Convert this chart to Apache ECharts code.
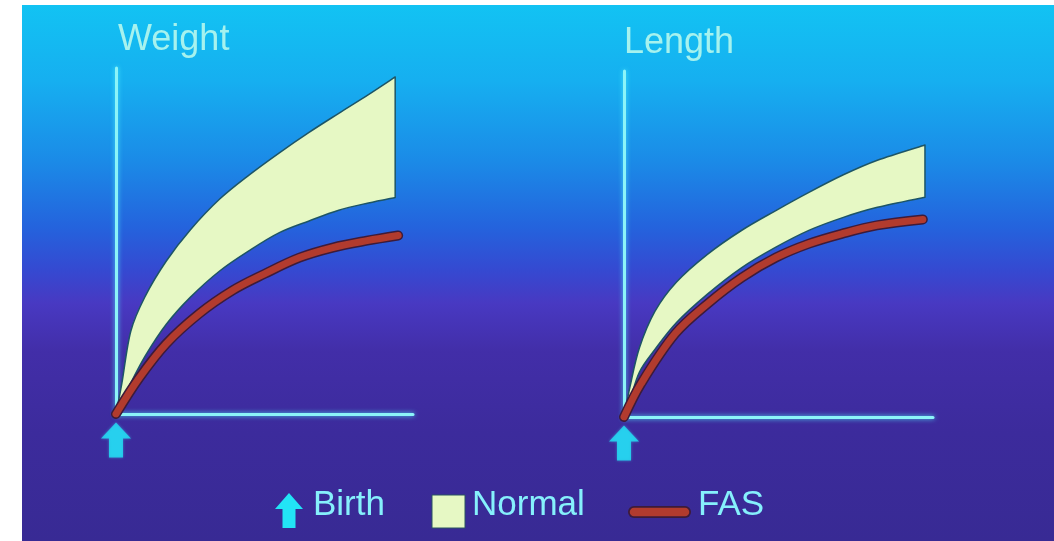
<!DOCTYPE html>
<html>
<head>
<meta charset="utf-8">
<script src="https://cdn.jsdelivr.net/npm/echarts@6/dist/echarts.min.js"></script>
<style>
html,body{margin:0;padding:0;background:#fff;}
#chart{width:1054px;height:541px;}
</style>
</head>
<body>
<div id="chart"></div>
<script>
// ---- data (axes are unitless 0..100) ----
const titles = ['Weight', 'Length'];
const legendLabels = ['Birth', 'Normal', 'FAS'];
const birthX = 0;

const weightX     = [0, 2, 5, 10, 17, 25, 35, 45, 55, 65, 75, 85, 94];
const weightUpper = [0, 9, 24, 34.3, 44.3, 53.2, 62.2, 69.2, 75.5, 81.4, 86.9, 92.3, 97.4];
const weightLower = [0, 3.5, 9, 17, 26, 33.7, 41.4, 47.3, 52.4, 55.8, 58.9, 61, 62.6];
const weightFasX  = [0, 7.8, 16.9, 28, 39.2, 50, 61.8, 73, 84.5, 95];
const weightFas   = [0, 10.4, 20.3, 29, 35.7, 40.5, 45.2, 48.1, 50.1, 51.6];

const lengthX     = [0, 2, 5, 10, 17, 27, 38, 49, 60, 71, 82, 97.4];
const lengthUpper = [0, 9, 20, 30.5, 39, 47, 53.9, 59.6, 65, 70, 74.2, 78.6];
const lengthLower = [0, 5, 13, 19.5, 27.3, 35.5, 43.1, 49, 54, 57.7, 60.6, 63.5];
const lengthFasX  = [0, 5.5, 16.6, 27.4, 38.1, 49.2, 59.9, 70.7, 81.8, 96.7];
const lengthFas   = [0, 9.6, 24.1, 33, 40.3, 46.1, 50.1, 53, 55.4, 57.1];

// ---- styles ----
const AXIS_COLOR = '#8cf4f8';
const BAND_COLOR = '#e6f8c4';
const BAND_EDGE = '#1d5566';
const FAS_COLOR = '#b23b2e';
const FAS_EDGE = '#3d1b3a';
const ARROW_COLOR = '#22e4f6';
const TITLE_COLOR = '#a6f2ee';
const LEGEND_TEXT = '#86f0fc';
const FONT = '"Liberation Sans", Arial, sans-serif';
const ARROW_PATH = 'path://M15,0 L30,16 L22,16 L22,35 L8,35 L8,16 L0,16 Z';

const grids = [
  {left: 116, top: 68, width: 297, height: 346},
  {left: 624, top: 71, width: 309, height: 346}
];

function pairs(xs, ys) { return xs.map((x, i) => [x, ys[i]]); }

function axisDef(idx) {
  return {
    type: 'value', gridIndex: idx, min: 0, max: 100,
    axisLine: {show: true, onZero: false, lineStyle: {color: AXIS_COLOR, width: 3, shadowBlur: 5, shadowColor: 'rgba(80,240,255,0.85)'}},
    axisTick: {show: false}, axisLabel: {show: false}, splitLine: {show: false}
  };
}

// Catmull-Rom smoothing of already-projected pixel points -> cubic bezier commands
function curveCmds(pts) {
  let s = '';
  for (let i = 0; i < pts.length - 1; i++) {
    const p0 = pts[Math.max(0, i - 1)], p1 = pts[i], p2 = pts[i + 1], p3 = pts[Math.min(pts.length - 1, i + 2)];
    const c1 = [p1[0] + (p2[0] - p0[0]) / 6, p1[1] + (p2[1] - p0[1]) / 6];
    const c2 = [p2[0] - (p3[0] - p1[0]) / 6, p2[1] - (p3[1] - p1[1]) / 6];
    s += ' C' + c1[0] + ',' + c1[1] + ' ' + c2[0] + ',' + c2[1] + ' ' + p2[0] + ',' + p2[1];
  }
  return s;
}

function bandSeries(idx, xs, upper, lower) {
  return {
    type: 'custom', coordinateSystem: 'cartesian2d', xAxisIndex: idx, yAxisIndex: idx,
    data: pairs(xs, upper), silent: true, z: 2, clip: false,
    renderItem: function (params, api) {
      if (params.dataIndex !== 0) return null;
      const up = xs.map((x, i) => api.coord([x, upper[i]]));
      const lo = xs.map((x, i) => api.coord([x, lower[i]])).reverse();
      const d = 'M' + up[0][0] + ',' + up[0][1] + curveCmds(up) +
                ' L' + lo[0][0] + ',' + lo[0][1] + curveCmds(lo) + ' Z';
      return {
        type: 'path', shape: {pathData: d},
        style: {fill: BAND_COLOR, stroke: BAND_EDGE, lineWidth: 1.5, lineJoin: 'round'}
      };
    }
  };
}

function panelSeries(idx, xs, upper, lower, fasX, fas) {
  return [
    bandSeries(idx, xs, upper, lower),
    {
      type: 'line', xAxisIndex: idx, yAxisIndex: idx,
      data: pairs(fasX, fas), smooth: 0.35, symbol: 'none', silent: true,
      lineStyle: {color: FAS_EDGE, width: 10, cap: 'round'}, z: 4
    },
    {
      type: 'line', xAxisIndex: idx, yAxisIndex: idx,
      data: pairs(fasX, fas), smooth: 0.35, symbol: 'none', silent: true,
      lineStyle: {color: FAS_COLOR, width: 7, cap: 'round'}, z: 5
    },
    {
      type: 'scatter', xAxisIndex: idx, yAxisIndex: idx, clip: false,
      data: [[birthX, 0]], symbol: ARROW_PATH, symbolSize: [30, 35],
      symbolOffset: [0, 26], silent: true,
      itemStyle: {color: ARROW_COLOR, shadowBlur: 3, shadowColor: 'rgba(60,230,255,0.6)'}, z: 6
    }
  ];
}

const chart = echarts.init(document.getElementById('chart'), null, {renderer: 'canvas'});

const ax = 275, ay = 493;
const legendArrow = [[ax + 14, ay], [ax + 28, ay + 16], [ax + 20.5, ay + 16], [ax + 20.5, ay + 35],
                     [ax + 7.5, ay + 35], [ax + 7.5, ay + 16], [ax, ay + 16]];

const option = {
  animation: false,
  backgroundColor: {
    type: 'linear', x: 0, y: 0, x2: 0, y2: 1,
    colorStops: [
      {offset: 0.00, color: '#12c4f3'},
      {offset: 0.15, color: '#16aff0'},
      {offset: 0.30, color: '#1b8ae7'},
      {offset: 0.42, color: '#2463dd'},
      {offset: 0.50, color: '#3549d1'},
      {offset: 0.56, color: '#4839c2'},
      {offset: 0.65, color: '#422ea8'},
      {offset: 0.80, color: '#3c2b9c'},
      {offset: 1.00, color: '#382a94'}
    ]
  },
  grid: grids,
  xAxis: [axisDef(0), axisDef(1)],
  yAxis: [axisDef(0), axisDef(1)],
  series: [].concat(
    panelSeries(0, weightX, weightUpper, weightLower, weightFasX, weightFas),
    panelSeries(1, lengthX, lengthUpper, lengthLower, lengthFasX, lengthFas)
  ),
  graphic: [
    {type: 'rect', left: 0, top: 0, shape: {width: 22, height: 541}, style: {fill: '#ffffff'}, z: 100, silent: true},
    {type: 'rect', left: 0, top: 0, shape: {width: 1054, height: 5}, style: {fill: '#ffffff'}, z: 100, silent: true},
    {type: 'text', x: 118, y: 40, style: {text: titles[0], fill: TITLE_COLOR, font: '36px ' + FONT, verticalAlign: 'middle'}, z: 50},
    {type: 'text', x: 624, y: 43, style: {text: titles[1], fill: TITLE_COLOR, font: '36px ' + FONT, verticalAlign: 'middle'}, z: 50},
    {type: 'polygon', shape: {points: legendArrow}, style: {fill: ARROW_COLOR}, z: 50},
    {type: 'text', x: 313, y: 505, style: {text: legendLabels[0], fill: LEGEND_TEXT, font: '35px ' + FONT, verticalAlign: 'middle'}, z: 50},
    {type: 'rect', shape: {x: 432, y: 495, width: 33, height: 33}, style: {fill: BAND_COLOR, stroke: '#2a5560', lineWidth: 1}, z: 50},
    {type: 'text', x: 472, y: 505, style: {text: legendLabels[1], fill: LEGEND_TEXT, font: '35px ' + FONT, verticalAlign: 'middle'}, z: 50},
    {type: 'line', shape: {x1: 634, y1: 512, x2: 685, y2: 512}, style: {stroke: FAS_EDGE, lineWidth: 12, lineCap: 'round'}, z: 50},
    {type: 'line', shape: {x1: 634, y1: 512, x2: 685, y2: 512}, style: {stroke: FAS_COLOR, lineWidth: 8.5, lineCap: 'round'}, z: 51},
    {type: 'text', x: 698, y: 505, style: {text: legendLabels[2], fill: LEGEND_TEXT, font: '35px ' + FONT, verticalAlign: 'middle'}, z: 50}
  ]
};
chart.setOption(option);
</script>
</body>
</html>
